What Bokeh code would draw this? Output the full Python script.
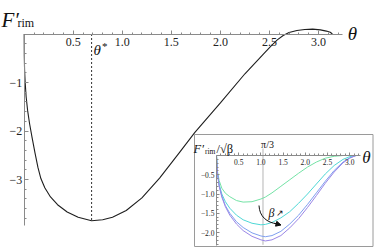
import numpy as np
from bokeh.plotting import figure
from bokeh.models import (LinearAxis, FixedTicker, CustomJSTickFormatter, Range1d,
                          Label, Arrow, NormalHead)
from bokeh.embed import file_html
from bokeh.resources import INLINE

# ---------------- data ----------------
theta_main = [0.000, 0.001, 0.004, 0.010, 0.020, 0.035, 0.055, 0.080, 0.110, 0.140,
              0.170, 0.210, 0.268, 0.340, 0.438, 0.550, 0.687, 0.800, 0.900, 1.040,
              1.200, 1.380, 1.580, 1.740, 2.000, 2.250, 2.450, 2.520, 2.580, 2.640,
              2.700, 2.780, 2.860, 2.940, 3.020, 3.080, 3.120, 3.1416]
F_main = [0.00, -0.45, -0.75, -1.00, -1.30, -1.58, -1.85, -2.13, -2.45, -2.75,
          -2.98, -3.17, -3.36, -3.52, -3.67, -3.78, -3.85, -3.83, -3.78, -3.64,
          -3.38, -2.97, -2.45, -2.03, -1.42, -0.82, -0.39, -0.24, -0.12, -0.03,
          0.030, 0.072, 0.094, 0.100, 0.085, 0.060, 0.035, 0.000]
theta_star = 0.687
F_star = -3.85

main_xticks = [0.5, 1.0, 1.5, 2.0, 2.5, 3.0]
main_yticks = [-1, -2, -3]

theta_in = [0, 0.02, 0.06, 0.12, 0.2, 0.3, 0.45, 0.6, 0.8, 1.0, 1.1, 1.25, 1.45,
            1.65, 1.85, 2.05, 2.25, 2.45, 2.65, 2.85, 3.0, 3.1416]
F_beta1 = [0, -0.40, -0.65, -0.85, -0.98, -1.07, -1.17, -1.21, -1.20, -1.13, -1.08,
           -0.97, -0.80, -0.63, -0.46, -0.30, -0.17, -0.07, -0.02, 0.0, 0.0, 0.0]
F_beta2 = [0, -0.45, -0.75, -1.00, -1.20, -1.37, -1.55, -1.67, -1.76, -1.80, -1.79,
           -1.74, -1.62, -1.46, -1.24, -1.00, -0.74, -0.48, -0.26, -0.10, -0.03, 0.0]
F_beta3 = [0, -0.45, -0.78, -1.05, -1.30, -1.50, -1.72, -1.87, -2.01, -2.09, -2.11,
           -2.08, -1.97, -1.78, -1.55, -1.27, -0.97, -0.67, -0.39, -0.17, -0.06, 0.0]
F_beta4 = [0, -0.45, -0.80, -1.08, -1.33, -1.55, -1.78, -1.95, -2.10, -2.19, -2.22,
           -2.19, -2.08, -1.88, -1.64, -1.35, -1.04, -0.72, -0.43, -0.19, -0.07, 0.0]
inset_series = [F_beta1, F_beta2, F_beta3, F_beta4]
inset_colors = ["#74e3a6", "#4fd8d6", "#7f9ff0", "#9a86e6"]
pi3 = np.pi / 3
inset_xticks = [0.5, 1.0, 1.5, 2.0, 2.5, 3.0]
inset_yticks = [-0.5, -1.0, -1.5, -2.0]

# ---------------- geometry ----------------
W, H = 374, 249
SX, X0c = 98.1, 23.7
SY, Y0c = 48.5, 33.5
xs, xe = -X0c / SX, (W - X0c) / SX
ye = Y0c / SY
ys = ye - H / SY

SXi, SYi = 44.4, 38.5
ixs = -216 / SXi
ixe = ixs + W / SXi
iye = 155 / SYi
iys = iye - H / SYi


def mx(px):
    return xs + px / SX


def my(py):
    return ye - py / SY


def ix(px):
    return ixs + px / SXi


def iy(py):
    return iye - py / SYi


p = figure(width=W, height=H, output_backend="svg", toolbar_location=None,
           x_range=Range1d(xs, xe), y_range=Range1d(ys, ye),
           x_axis_type=None, y_axis_type=None, min_border=0)
p.outline_line_color = None
p.background_fill_color = "white"
p.extra_x_ranges = {"ix": Range1d(ixs, ixe)}
p.extra_y_ranges = {"iy": Range1d(iys, iye)}

SERIF = "Liberation Serif"
fmt1 = CustomJSTickFormatter(code="return (tick < 0 ? '\u2212' : '') + Math.abs(tick).toFixed(1);")
fmt0 = CustomJSTickFormatter(code="return (tick < 0 ? '\u2212' : '') + Math.abs(tick).toFixed(0);")


def style_axis(ax, size, major_len, minor_len, standoff):
    ax.axis_line_color = "#8a8a8a"
    ax.major_tick_line_color = "#8a8a8a"
    ax.minor_tick_line_color = "#8a8a8a"
    ax.major_tick_in = major_len
    ax.major_tick_out = 0
    ax.minor_tick_in = minor_len
    ax.minor_tick_out = 0
    ax.major_label_text_font = SERIF
    ax.major_label_text_font_size = size
    ax.major_label_text_color = "#222222"
    ax.major_label_standoff = standoff


# ---------------- main plot ----------------
p.line(theta_main, F_main, line_color="#1e1e1e", line_width=1.1)
p.segment(x0=[theta_star], y0=[0], x1=[theta_star], y1=[F_star],
          line_color="#333333", line_width=1, line_dash="2 2")

xminor = [round(0.1 * k, 1) for k in range(1, 33) if k % 5 != 0]
yminor = [round(-0.2 * k, 1) for k in range(1, 20) if k % 5 != 0]
xax = LinearAxis(fixed_location=0, ticker=FixedTicker(ticks=main_xticks, minor_ticks=xminor),
                 formatter=fmt1, bounds=(0, 3.24))
style_axis(xax, "12px", 4, 2, 4)
p.add_layout(xax, "below")
yax = LinearAxis(fixed_location=0, ticker=FixedTicker(ticks=main_yticks, minor_ticks=yminor),
                 formatter=fmt0, bounds=(-3.95, 0))
style_axis(yax, "12px", 4, 2, 2)
p.add_layout(yax, "left")

# ---------------- inset ----------------
p.quad(left=[ix(194)], right=[ix(372.5)], top=[iy(134)], bottom=[iy(246)],
       fill_color="white", line_color="#9a9a9a", line_width=1,
       x_range_name="ix", y_range_name="iy")
p.segment(x0=[pi3], y0=[0.18], x1=[pi3], y1=[-2.32], line_color="#b5b5b5",
          line_width=1, x_range_name="ix", y_range_name="iy")
for F, c in zip(inset_series, inset_colors):
    p.line(theta_in, F, line_color=c, line_width=1, x_range_name="ix", y_range_name="iy")

ixminor = [round(0.1 * k, 1) for k in range(1, 33) if k % 5 != 0]
iyminor = [round(-0.1 * k, 1) for k in range(1, 24) if k % 5 != 0]
iax = LinearAxis(fixed_location=0, x_range_name="ix", y_range_name="iy",
                 ticker=FixedTicker(ticks=inset_xticks, minor_ticks=ixminor),
                 formatter=fmt1, bounds=(0, 3.25))
style_axis(iax, "7.5px", 3, 2, 3)
p.add_layout(iax, "below")
iyax = LinearAxis(fixed_location=0, x_range_name="ix", y_range_name="iy",
                  ticker=FixedTicker(ticks=inset_yticks, minor_ticks=iyminor),
                  formatter=fmt1, bounds=(-2.33, 0))
style_axis(iyax, "7.5px", 3, 2, 2)
p.add_layout(iyax, "left")

# curved arrow (beta increasing)
p.bezier(x0=[ix(258.5)], y0=[iy(205)], x1=[ix(277)], y1=[iy(223.5)],
         cx0=[ix(259)], cy0=[iy(216)], cx1=[ix(266)], cy1=[iy(222)],
         line_color="#111111", line_width=1, x_range_name="ix", y_range_name="iy")
p.add_layout(Arrow(end=NormalHead(size=5, fill_color="#111111", line_color="#111111"),
                   x_start=ix(274), y_start=iy(222.8), x_end=ix(280.5), y_end=iy(224.5),
                   line_color="#111111", line_width=1,
                   x_range_name="ix", y_range_name="iy"))


def lab(x, y, text, size, style="normal", align="left", baseline="alphabetic", color="#111111"):
    p.add_layout(Label(x=x, y=y, text=text, text_font=SERIF, text_font_size=size,
                       text_font_style=style, text_align=align, text_baseline=baseline,
                       text_color=color))


# main labels
lab(mx(1), my(19), "F\u2032", "21px", "italic")
lab(mx(17), my(22), "rim", "12px")
lab(mx(352), my(33), "\u03b8", "19px", "italic", "center", "middle")
lab(mx(93), my(49), "\u03b8", "15px", "italic")
lab(mx(101.5), my(45), "*", "11px")

# inset labels
lab(mx(193), my(148.5), "F\u2032", "12.5px", "italic")
lab(mx(204.5), my(150.5), "rim", "7.5px")
lab(mx(216), my(148.5), "/\u221a\u03b2", "12.5px")
lab(mx(267), my(144), "\u03c0/3", "10px", "normal", "center", "middle")
lab(mx(366), my(157), "\u03b8", "17px", "italic", "center", "middle")
lab(mx(268), my(212), "\u03b2", "12px", "italic")
lab(mx(275), my(212), "\u2197", "9px")

open("out.html", "w").write(file_html(p, INLINE))
